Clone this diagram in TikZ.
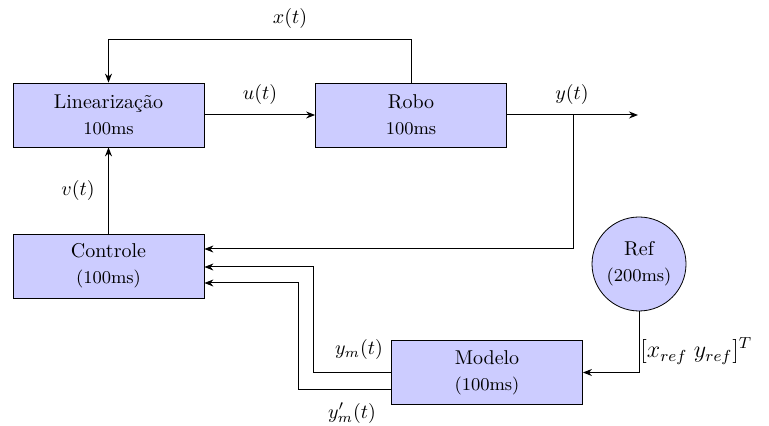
\documentclass[tikz,border=0pt]{standalone}
\usetikzlibrary{arrows.meta}
\begin{document}
\begin{tikzpicture}[x=0.5pt,y=-0.5pt,
  blk/.style={draw, fill=blue!20, minimum width=95.5pt, minimum height=32pt, align=center, inner sep=0pt},
  refc/.style={draw, fill=blue!20, circle, minimum size=47pt, align=center, inner sep=0pt},
  conn/.style={-{Stealth[length=4.5pt,width=3.5pt]}, line width=0.5pt}]
\useasboundingbox (0,0) rectangle (769,426);
\node[blk] (lin) at (108.5,115) {Linearização\\[1pt]{\small 100ms}};
\node[blk] (robo) at (411,115) {Robo\\[1pt]{\small 100ms}};
\node[blk] (ctl) at (108.5,266) {Controle\\[1pt]{\small (100ms)}};
\node[blk] (mod) at (487,372.5) {Modelo\\[1pt]{\small (100ms)}};
\node[refc] (ref) at (639,264) {Ref\\[1pt]{\small (200ms)}};
\coordinate (out) at (638,115);
\coordinate (br) at (573,115);
% x(t) feedback
\draw[conn] (robo.north) -- ++(0,-43) -| (lin.north);
\node at (290,19) {$x(t)$};
% u(t)
\draw[conn] (lin.east) -- (robo.west);
\node at (260,95) {$u(t)$};
% y(t)
\draw[conn] (robo.east) -- (out);
\node at (572,95) {$y(t)$};
\draw[conn] (br) |- ([yshift=8.5pt]ctl.east);
% v(t)
\draw[conn] (ctl.north) -- (lin.south);
\node at (78,191) {$v(t)$};
% ref to modelo
\draw[conn] (ref.south) |- (mod.east);
\node[anchor=west, font=\large, inner sep=0pt] at (640,351) {$[x_{ref}\;y_{ref}]^T$};
% modelo to controle
\draw[conn] (mod.west) -- (313,372.5) |- ([yshift=-0.5pt]ctl.east);
\draw[conn] ([yshift=-8.25pt]mod.west) -- (298,389) |- ([yshift=-8.5pt]ctl.east);
\node at (359,350) {$y_m(t)$};
\node at (352,413) {$y'_m(t)$};
\end{tikzpicture}
\end{document}
